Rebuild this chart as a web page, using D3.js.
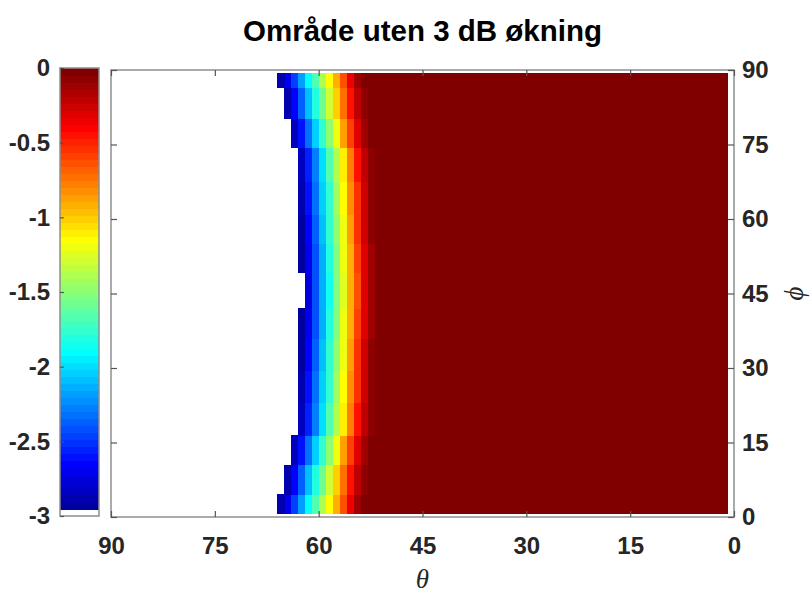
<!DOCTYPE html>
<html>
<head>
<meta charset="utf-8">
<script src="https://cdn.jsdelivr.net/npm/d3@7"></script>
<style>
  html, body { margin: 0; padding: 0; background: #fff; }
  svg { display: block; }
</style>
</head>
<body>
<svg id="chart" width="811" height="593"></svg>
<script>
// ---------------- DATA ----------------
const titleText = "Område uten 3 dB økning";
const xTicks = [90, 75, 60, 45, 30, 15, 0];            // theta
const yTicks = [0, 15, 30, 45, 60, 75, 90];            // phi
const cbTicks = [0, -0.5, -1, -1.5, -2, -2.5, -3];
const cbTickLabels = ["0", "-0.5", "-1", "-1.5", "-2", "-2.5", "-3"];
const colorLimits = [-3, 0];

// theta grid: columns [t, t+1] for t = 1..89
const thetaMin = 1, thetaMax = 90;
// phi row boundaries (bottom -> top)
const phiEdges = [0.7, 4.6, 10.5, 16.5, 23, 29.5, 36, 42, 49.2, 55, 61, 67.5, 74.3, 80.3, 86.4, 89.3];
// transition columns, identified by upper theta edge (column covers [c-1, c])
const transCols = [66, 65, 64, 63, 62, 61, 60, 59, 58, 57, 56, 55, 54, 53, 52, 51];
// values in dB for each row (bottom -> top); null = below -3 dB (white)
const rowValues = [
  [-2.88, -2.68, -2.45, -2.18, -1.9, -1.65, -1.4, -1.15, -0.9, -0.63, -0.36, -0.14, -0.02, 0, 0, 0],
  [null, -2.86, -2.64, -2.38, -2.1, -1.82, -1.55, -1.28, -1.0, -0.72, -0.44, -0.2, -0.05, 0, 0, 0],
  [null, null, -2.85, -2.6, -2.33, -2.05, -1.76, -1.47, -1.18, -0.88, -0.58, -0.3, -0.1, -0.01, 0, 0],
  [null, null, null, -2.82, -2.56, -2.28, -1.98, -1.68, -1.38, -1.08, -0.77, -0.46, -0.2, -0.05, 0, 0],
  [null, null, null, -2.88, -2.62, -2.34, -2.04, -1.74, -1.44, -1.14, -0.83, -0.52, -0.25, -0.07, 0, 0],
  [null, null, null, -2.91, -2.66, -2.38, -2.08, -1.78, -1.48, -1.18, -0.87, -0.56, -0.28, -0.09, -0.01, 0],
  [null, null, null, -2.94, -2.69, -2.41, -2.11, -1.81, -1.51, -1.21, -0.9, -0.59, -0.3, -0.1, -0.02, 0],
  [null, null, null, null, -2.74, -2.43, -2.13, -1.83, -1.53, -1.23, -0.92, -0.61, -0.32, -0.11, -0.02, 0],
  [null, null, null, -2.94, -2.69, -2.41, -2.11, -1.81, -1.51, -1.21, -0.9, -0.59, -0.3, -0.1, -0.02, 0],
  [null, null, null, -2.91, -2.66, -2.38, -2.08, -1.78, -1.48, -1.18, -0.87, -0.56, -0.28, -0.09, -0.01, 0],
  [null, null, null, -2.88, -2.62, -2.34, -2.04, -1.74, -1.44, -1.14, -0.83, -0.52, -0.25, -0.07, 0, 0],
  [null, null, null, -2.82, -2.56, -2.28, -1.98, -1.68, -1.38, -1.08, -0.77, -0.46, -0.2, -0.05, 0, 0],
  [null, null, -2.85, -2.6, -2.33, -2.05, -1.76, -1.47, -1.18, -0.88, -0.58, -0.3, -0.1, -0.01, 0, 0],
  [null, -2.86, -2.64, -2.38, -2.1, -1.82, -1.55, -1.28, -1.0, -0.72, -0.44, -0.2, -0.05, 0, 0, 0],
  [-2.88, -2.68, -2.45, -2.18, -1.9, -1.65, -1.4, -1.15, -0.9, -0.63, -0.36, -0.14, -0.02, 0, 0, 0]
];
// value on the low-theta side of the transition
const plateauValue = 0;

// ---------------- COLORMAP (jet(64) with first entry white) ----------------
function jet(m) {
  const n = Math.ceil(m / 4);
  const u = [];
  for (let i = 1; i <= n; i++) u.push(i / n);
  for (let i = 1; i < n; i++) u.push(1);
  for (let i = n; i >= 1; i--) u.push(i / n);
  const g0 = Math.ceil(n / 2) - (m % 4 === 1 ? 1 : 0);
  const J = Array.from({length: m}, () => [0, 0, 0]);
  u.forEach((val, k) => {
    const g = g0 + k + 1, r = g + n, b = g - n;
    if (r <= m) J[r - 1][0] = val;
    if (g <= m) J[g - 1][1] = val;
    if (b >= 1) J[b - 1][2] = val;
  });
  return J.map(c => d3.rgb(c[0] * 255, c[1] * 255, c[2] * 255).formatHex());
}
const nColors = 64;
const cmap = jet(nColors);
cmap[0] = "#ffffff";
function colorOf(v) {
  let idx = Math.floor((v - colorLimits[0]) / (colorLimits[1] - colorLimits[0]) * nColors);
  idx = Math.max(0, Math.min(nColors - 1, idx));
  return cmap[idx];
}

// ---------------- BUILD GRID ----------------
const cells = [];
for (let r = 0; r < rowValues.length; r++) {
  for (let t = thetaMin; t < thetaMax; t++) {
    const c = t + 1;
    let v;
    const k = transCols.indexOf(c);
    if (k >= 0) v = rowValues[r][k];
    else if (c > transCols[0]) v = null;
    else v = plateauValue;
    if (v === null) continue;
    cells.push({t0: t, t1: t + 1, p0: phiEdges[r], p1: phiEdges[r + 1], v});
  }
}

// ---------------- DRAW ----------------
const svg = d3.select("#chart");
const plot = {left: 111, right: 734, top: 70, bottom: 517};
const x = d3.scaleLinear().domain([90, 0]).range([plot.left, plot.right]);
const y = d3.scaleLinear().domain([0, 90]).range([plot.bottom, plot.top]);
const font = "'Liberation Sans', Arial, Helvetica, sans-serif";
const axisColor = "#8e8e8e";
const textColor = "#262626";

svg.append("g").selectAll("rect").data(cells).join("rect")
  .attr("x", d => x(d.t1))
  .attr("y", d => y(d.p1))
  .attr("width", d => x(d.t0) - x(d.t1) + 0.5)
  .attr("height", d => y(d.p0) - y(d.p1) + 0.5)
  .attr("fill", d => colorOf(d.v))
  .attr("shape-rendering", "crispEdges");

// box
svg.append("rect")
  .attr("x", plot.left).attr("y", plot.top)
  .attr("width", plot.right - plot.left).attr("height", plot.bottom - plot.top)
  .attr("fill", "none").attr("stroke", axisColor).attr("stroke-width", 1.5);

function styleAxis(g) {
  g.select(".domain").remove();
  g.selectAll(".tick line").attr("stroke", "#555").attr("stroke-width", 1.2);
  g.selectAll(".tick text").attr("fill", textColor)
    .style("font-family", font).style("font-weight", "bold").style("font-size", "24px");
}

// bottom axis
svg.append("g").attr("transform", `translate(0,${plot.bottom})`)
  .call(d3.axisBottom(x).tickValues(xTicks).tickSizeInner(-6).tickSizeOuter(0).tickPadding(20))
  .call(styleAxis);
// top mirrored ticks
svg.append("g").attr("transform", `translate(0,${plot.top})`)
  .call(d3.axisTop(x).tickValues(xTicks).tickSizeInner(-6).tickSizeOuter(0).tickFormat(""))
  .call(styleAxis);
// right axis
svg.append("g").attr("transform", `translate(${plot.right},0)`)
  .call(d3.axisRight(y).tickValues(yTicks).tickSizeInner(-6).tickSizeOuter(0).tickPadding(8))
  .call(styleAxis);
// left mirrored ticks
svg.append("g").attr("transform", `translate(${plot.left},0)`)
  .call(d3.axisLeft(y).tickValues(yTicks).tickSizeInner(-6).tickSizeOuter(0).tickFormat(""))
  .call(styleAxis);

// colorbar
const cb = {left: 60, right: 99, top: 68, bottom: 516};
const cy = d3.scaleLinear().domain(colorLimits).range([cb.bottom, cb.top]);
const cbSteps = d3.range(nColors).map(i => ({
  v0: colorLimits[0] + i * (colorLimits[1] - colorLimits[0]) / nColors,
  v1: colorLimits[0] + (i + 1) * (colorLimits[1] - colorLimits[0]) / nColors,
  color: cmap[i]
}));
svg.append("g").selectAll("rect").data(cbSteps).join("rect")
  .attr("x", cb.left).attr("width", cb.right - cb.left)
  .attr("y", d => cy(d.v1)).attr("height", d => cy(d.v0) - cy(d.v1) + 0.5)
  .attr("fill", d => d.color).attr("shape-rendering", "crispEdges");
svg.append("rect")
  .attr("x", cb.left).attr("y", cb.top)
  .attr("width", cb.right - cb.left).attr("height", cb.bottom - cb.top)
  .attr("fill", "none").attr("stroke", axisColor).attr("stroke-width", 1.5);
svg.append("g").attr("transform", `translate(${cb.left},0)`)
  .call(d3.axisLeft(cy).tickValues(cbTicks).tickSizeInner(-4).tickSizeOuter(0).tickPadding(10)
    .tickFormat((d, i) => cbTickLabels[i]))
  .call(styleAxis);

// title
svg.append("text")
  .attr("x", (plot.left + plot.right) / 2).attr("y", 41)
  .attr("text-anchor", "middle")
  .style("font-family", font).style("font-weight", "bold").style("font-size", "29.5px")
  .attr("fill", "#000")
  .text(titleText);

// axis labels
svg.append("text")
  .attr("x", (plot.left + plot.right) / 2).attr("y", 588)
  .attr("text-anchor", "middle")
  .style("font-family", "'Liberation Serif', 'DejaVu Serif', serif").style("font-style", "italic")
  .style("font-size", "27px").attr("fill", textColor)
  .text("θ");
svg.append("text")
  .attr("transform", `translate(803,${(plot.top + plot.bottom) / 2}) rotate(-90)`)
  .attr("text-anchor", "middle")
  .style("font-family", "'Liberation Serif', 'DejaVu Serif', serif").style("font-style", "italic")
  .style("font-size", "27px").attr("fill", textColor)
  .text("ϕ");
</script>
</body>
</html>
